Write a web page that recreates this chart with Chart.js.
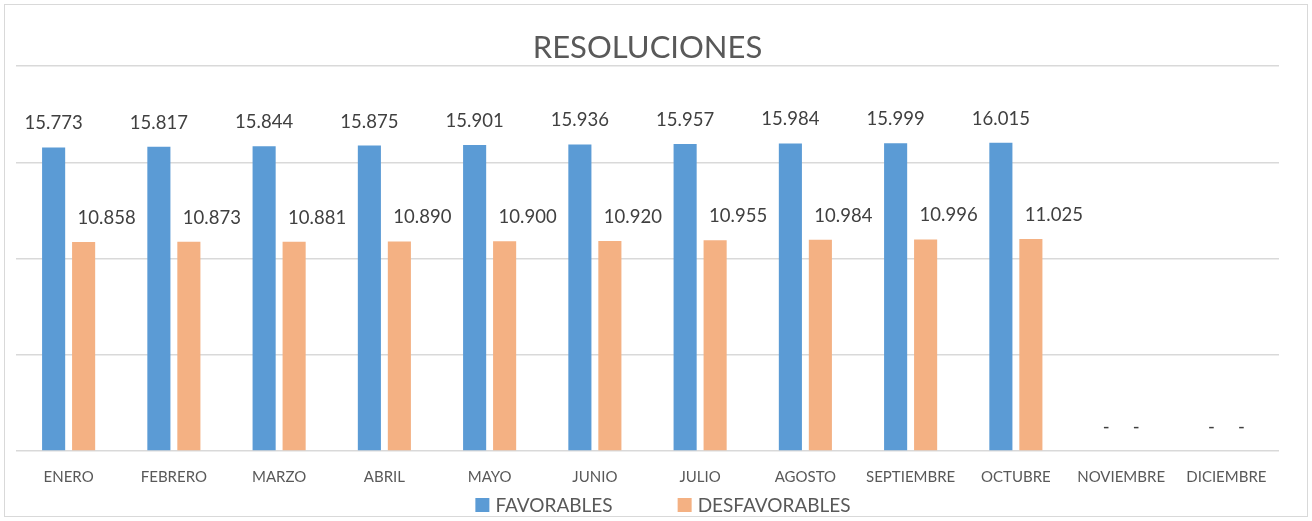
<!DOCTYPE html>
<html lang="es">
<head>
<meta charset="utf-8">
<title>Resoluciones</title>
<script src="https://cdn.jsdelivr.net/npm/chart.js@4.4.1/dist/chart.umd.min.js"></script>
<style>
    html, body { margin: 0; padding: 0; background: #fff; }
    #wrap { position: relative; width: 1312px; height: 521px; }
</style>
</head>
<body>
<div id="wrap"><canvas id="resolucionesChart"></canvas></div>
<script>
// datos del gráfico
var meses = ['ENERO', 'FEBRERO', 'MARZO', 'ABRIL', 'MAYO', 'JUNIO', 'JULIO', 'AGOSTO', 'SEPTIEMBRE', 'OCTUBRE', 'NOVIEMBRE', 'DICIEMBRE'];
var favorables = [15773, 15817, 15844, 15875, 15901, 15936, 15957, 15984, 15999, 16015, 0, 0];
var desfavorables = [10858, 10873, 10881, 10890, 10900, 10920, 10955, 10984, 10996, 11025, 0, 0];
var yMax = 20000;
var yPaso = 5000;

var FONT = 'Lato, "Open Sans", sans-serif';
var GRIS_TEXTO = '#595959';

function formatoNumero(v) {
    if (v === 0) return '-';
    return v.toLocaleString('es-ES', { useGrouping: true, minimumGroupingDigits: 1 });
}

// marco exterior del gráfico
var marcoPlugin = {
    id: 'marco',
    beforeDraw: function(chart) {
        var ctx = chart.ctx;
        ctx.save();
        ctx.fillStyle = '#ffffff';
        ctx.fillRect(0, 0, chart.width, chart.height);
        ctx.strokeStyle = '#d9d9d9';
        ctx.lineWidth = 1;
        ctx.strokeRect(4.5, 4.5, chart.width - 9, chart.height - 9);
        ctx.restore();
    }
};

// etiquetas de valores encima de las barras
var etiquetasPlugin = {
    id: 'etiquetas',
    afterDatasetsDraw: function(chart) {
        var ctx = chart.ctx;
        ctx.save();
        ctx.font = '18.5px ' + FONT;
        ctx.fillStyle = '#404040';
        ctx.textAlign = 'center';
        ctx.textBaseline = 'middle';
        chart.data.datasets.forEach(function(ds, i) {
            var meta = chart.getDatasetMeta(i);
            meta.data.forEach(function(bar, j) {
                var v = ds.data[j];
                var dx = v === 0 ? 0 : (ds.desplazarEtiqueta || 0);
                ctx.fillText(formatoNumero(v), bar.x + dx, bar.y - 24);
            });
        });
        ctx.restore();
    }
};

// leyenda inferior
var leyendaPlugin = {
    id: 'leyenda',
    afterDraw: function(chart) {
        var ctx = chart.ctx;
        ctx.save();
        ctx.font = '19px ' + FONT;
        ctx.textBaseline = 'middle';
        var items = chart.data.datasets.map(function(ds) {
            return { texto: ds.label, color: ds.backgroundColor, ancho: 14 + 6 + ctx.measureText(ds.label).width };
        });
        var separacion = 65;
        var total = items.reduce(function(s, it) { return s + it.ancho; }, 0) + separacion * (items.length - 1);
        var x = chart.width / 2 + 7 - total / 2;
        var y = 505;
        items.forEach(function(it) {
            ctx.fillStyle = it.color;
            ctx.fillRect(x, y - 7, 14, 14);
            ctx.fillStyle = GRIS_TEXTO;
            ctx.textAlign = 'left';
            ctx.fillText(it.texto, x + 20, y + 1);
            x += it.ancho + separacion;
        });
        ctx.restore();
    }
};

document.addEventListener('DOMContentLoaded', function() {
    var ctx = document.getElementById('resolucionesChart').getContext('2d');
    new Chart(ctx, {
        type: 'bar',
        data: {
            labels: meses,
            datasets: [{
                label: 'FAVORABLES',
                data: favorables,
                backgroundColor: '#5b9bd5',
                categoryPercentage: 0.57,
                barPercentage: 0.77
            }, {
                label: 'DESFAVORABLES',
                data: desfavorables,
                backgroundColor: '#f4b183',
                categoryPercentage: 0.57,
                barPercentage: 0.77,
                desplazarEtiqueta: 23
            }]
        },
        options: {
            responsive: true,
            maintainAspectRatio: false,
            animation: false,
            layout: {
                padding: { left: 16, right: 33, top: 0, bottom: 18 }
            },
            plugins: {
                legend: { display: false },
                tooltip: { enabled: false },
                title: {
                    display: true,
                    text: 'RESOLUCIONES',
                    color: GRIS_TEXTO,
                    font: { family: FONT, size: 31, weight: 'normal', lineHeight: 1.2 },
                    padding: { top: 29, bottom: 0 }
                }
            },
            scales: {
                x: {
                    grid: { display: false, drawTicks: false },
                    border: { display: false },
                    ticks: {
                        color: GRIS_TEXTO,
                        font: { family: FONT, size: 15 },
                        padding: 17,
                        maxRotation: 0,
                        autoSkip: false
                    }
                },
                y: {
                    min: 0,
                    max: yMax,
                    grid: { color: '#d9d9d9', lineWidth: 1.5, drawTicks: false },
                    border: { display: false },
                    ticks: { display: false, stepSize: yPaso }
                }
            }
        },
        plugins: [marcoPlugin, etiquetasPlugin, leyendaPlugin]
    });
});
</script>
</body>
</html>
